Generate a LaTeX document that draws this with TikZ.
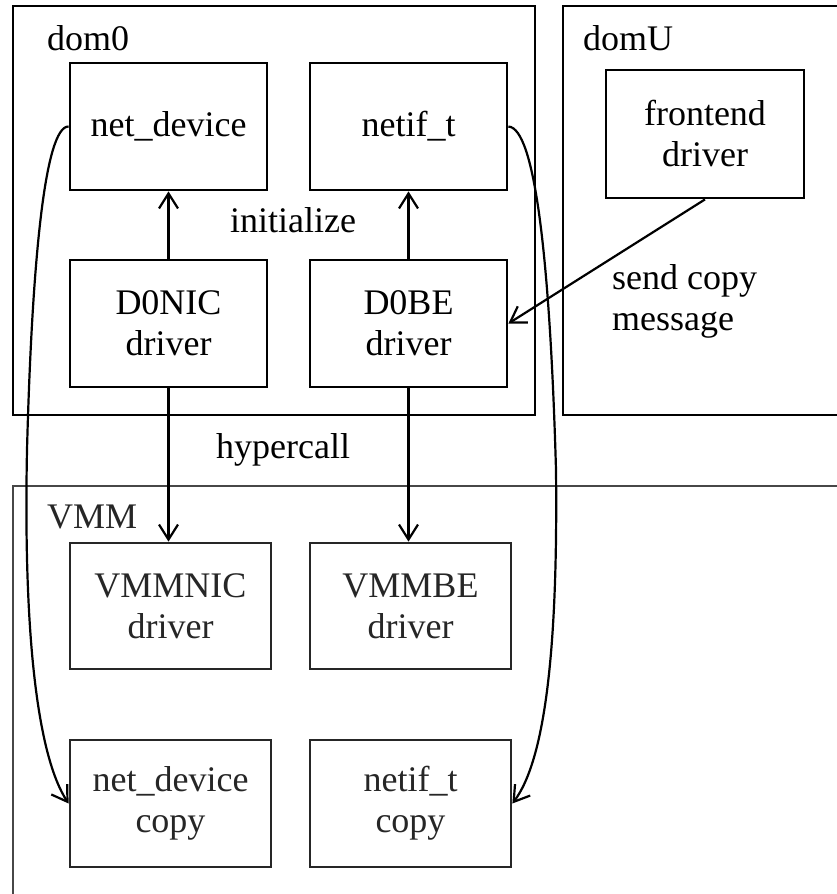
\documentclass[tikz,border=0pt]{standalone}
\usepackage{fontspec}
\setmainfont{Liberation Serif}
\usetikzlibrary{arrows.meta}

\definecolor{vmmgray}{HTML}{262626}

\tikzset{
  txt/.style={font=\fontsize{36}{41}\selectfont},
  frame/.style={line width=2.8pt},
  vframe/.style={line width=2.4pt, draw=vmmgray!85},
  box/.style={draw, txt, line width=2.8pt, minimum width=197pt,
    minimum height=127pt, inner sep=0pt, align=center},
  vbox/.style={box, draw=vmmgray, text=vmmgray, line width=2.8pt,
    minimum width=201pt, minimum height=126pt},
  lbl/.style={txt, inner sep=0pt},
  arr/.style={line width=2.2pt,
    -{Straight Barb[length=15pt,width=19pt,line width=2.2pt]}}
}

\begin{document}
\begin{tikzpicture}[x=1pt,y=-1pt]
  \clip (0,0) rectangle (837,894);

  % containers
  \draw[frame] (13,6) rectangle (535,415);
  \draw[frame] (563,6) rectangle (860,415);
  \draw[vframe] (13,486) rectangle (860,910);

  \node[lbl, anchor=base west] (ldom0) at (47,50) {dom0};
  \node[lbl, anchor=base west] (ldomU) at (583,50) {domU};
  \node[lbl, anchor=base west, text=vmmgray] (lvmm) at (47,528) {VMM};

  % dom0
  \node[box] (netdev)  at (168.5,126.5) {net\_device};
  \node[box] (netif)   at (408.5,126.5) {netif\_t};
  \node[box] (d0nic)   at (168.5,323.5) {D0NIC\\driver};
  \node[box] (d0be)    at (408.5,323.5) {D0BE\\driver};

  % domU
  \node[box, minimum width=198pt, minimum height=128pt] (front) at (705,134) {frontend\\driver};

  % VMM
  \node[vbox] (vmmnic) at (170.5,606) {VMMNIC\\driver};
  \node[vbox] (vmmbe)  at (410.5,606) {VMMBE\\driver};
  \node[vbox, minimum height=127pt] (ndcopy) at (170.5,803.5) {net\_device\\copy};
  \node[vbox, minimum height=127pt] (nicopy) at (410.5,803.5) {netif\_t\\copy};

  % labels
  \node[lbl, anchor=base west] (linit)  at (230,232) {initialize};
  \node[lbl, anchor=base west] (lhyper) at (216,458) {hypercall};
  \node[lbl, anchor=north west, align=left] (lsend) at (612,264) {send copy\\message};

  % initialize
  \draw[arr] (d0nic.north) -- (netdev.south);
  \draw[arr] (d0be.north) -- (netif.south);

  % send copy message
  \draw[arr] (front.south) -- (d0be.east);

  % hypercalls
  \draw[arr] (d0nic.south) -- (d0nic.south |- vmmnic.north);
  \draw[arr] (d0be.south) -- (d0be.south |- vmmbe.north);

  % copies
  \draw[arr] (netdev.west) .. controls (45,126) and (32,260) .. (27,450)
                           .. controls (23,650) and (40,760) .. (ndcopy.west);
  \draw[arr] (netif.east) .. controls (535,128) and (550,260) .. (556,470)
                          .. controls (558,650) and (545,760) .. (nicopy.east);
\end{tikzpicture}
\end{document}
